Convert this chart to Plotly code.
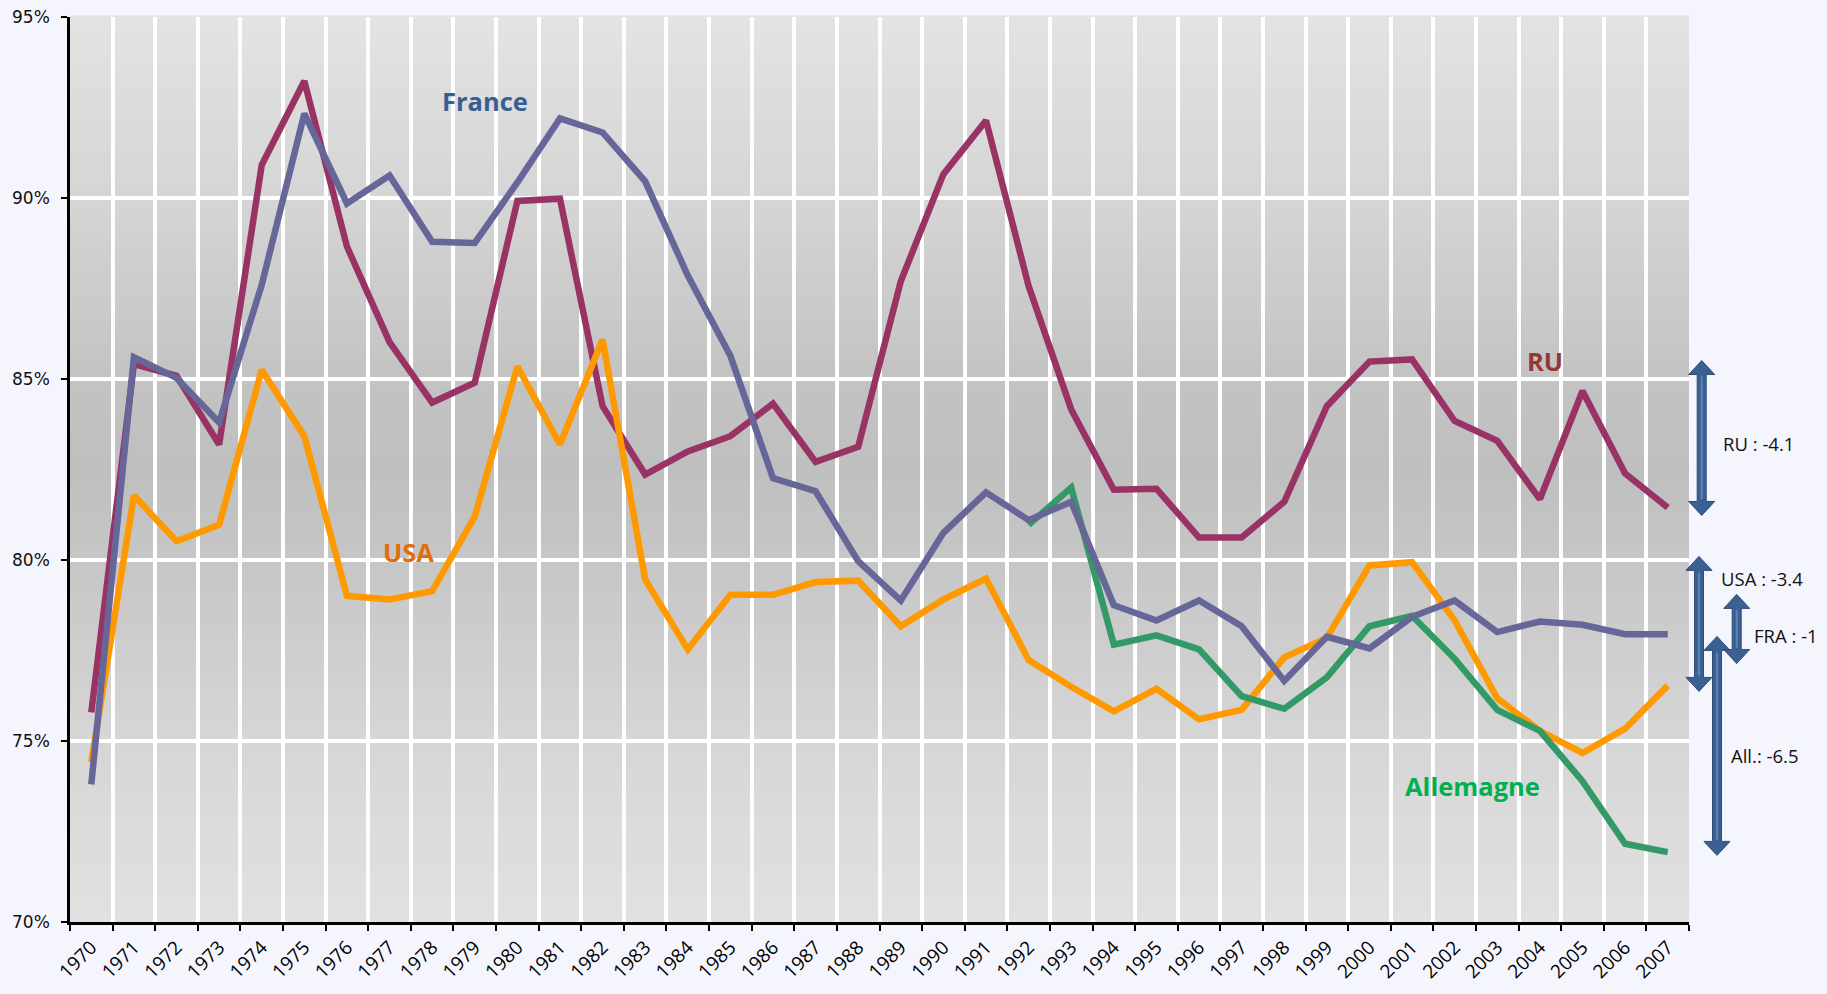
import plotly.graph_objects as go

years = [str(y) for y in range(1970, 2008)]

ru = [75.79, 85.41, 85.09, 83.19, 90.91, 93.23, 88.66, 86.02, 84.35, 84.90,
      89.92, 89.98, 84.25, 82.36, 83.00, 83.42, 84.32, 82.71, 83.13, 87.70,
      90.66, 92.14, 87.57, 84.16, 81.94, 81.97, 80.62, 80.62, 81.61, 84.25,
      85.48, 85.54, 83.84, 83.29, 81.68, 84.67, 82.39, 81.45]

france = [73.80, 85.60, 85.03, 83.80, 87.60, 92.33, 89.85, 90.62, 88.79, 88.76,
          90.43, 92.20, 91.81, 90.46, 87.86, 85.64, 82.26, 81.90, 79.97, 78.88,
          80.75, 81.87, 81.10, 81.61, 78.75, 78.33, 78.88, 78.17, 76.66, 77.88,
          77.56, 78.43, 78.88, 78.01, 78.30, 78.21, 77.95, 77.95]

usa = [74.41, 81.78, 80.52, 80.97, 85.25, 83.42, 79.01, 78.91, 79.14, 81.20,
       85.35, 83.19, 86.09, 79.46, 77.53, 79.04, 79.04, 79.39, 79.43, 78.17,
       78.91, 79.49, 77.24, 76.50, 75.82, 76.44, 75.60, 75.86, 77.31, 77.85,
       79.85, 79.94, 78.33, 76.18, 75.28, 74.67, 75.34, 76.53]

allemagne = [None] * 22 + [80.97, 82.00, 77.66, 77.92, 77.53, 76.24, 75.89, 76.76,
                           78.17, 78.46, 77.27, 75.86, 75.28, 73.89, 72.16, 71.93]

y_ticks = [70, 75, 80, 85, 90, 95]
y_min, y_max = 70, 95

# right-hand arrows: label, value top, value bottom
arrow_labels = ["RU : -4.1", "USA : -3.4", "All.: -6.5", "FRA : -1"]
arrow_tops = [85.51, 80.10, 77.89, 79.05]
arrow_bottoms = [81.23, 76.37, 71.84, 77.14]

W, H = 1827, 994
L, R, T, B = 70, 1689, 17, 922


def px_x(px):
    return (px - L) / (R - L)


def px_y(py):
    return (B - py) / (B - T)


def val_y(v):
    return (v - y_min) / (y_max - y_min)


fig = go.Figure()
for name, vals, col in [("RU", ru, "#993366"), ("USA", usa, "#FF9900"),
                        ("Allemagne", allemagne, "#339966"),
                        ("France", france, "#666699")]:
    fig.add_trace(go.Scatter(x=years, y=vals, mode="lines", name=name,
                             line=dict(color=col, width=6.5), connectgaps=False,
                             showlegend=False))

shapes = []


def lerp(c1, c2, t):
    return tuple(int(round(a + (b - a) * t)) for a, b in zip(c1, c2))


stops = [(70, (225, 225, 225)), (75, (214, 214, 214)), (80, (198, 198, 198)),
         (82.5, (191, 191, 191)), (85, (195, 195, 195)), (90, (213, 213, 213)),
         (95, (227, 227, 227))]
nb = 100
for i in range(nb):
    v0 = y_min + (y_max - y_min) * i / nb
    v1 = y_min + (y_max - y_min) * (i + 1) / nb
    vm = (v0 + v1) / 2
    for j in range(len(stops) - 1):
        if stops[j][0] <= vm <= stops[j + 1][0]:
            t = (vm - stops[j][0]) / (stops[j + 1][0] - stops[j][0])
            c = lerp(stops[j][1], stops[j + 1][1], t)
            break
    shapes.append(dict(type="rect", xref="paper", yref="paper", x0=0, x1=1,
                       y0=val_y(v0), y1=val_y(v1) + 0.002, line=dict(width=0),
                       fillcolor="rgb(%d,%d,%d)" % c, layer="below"))

arrow_x = [1701.7, 1699.0, 1717.0, 1736.7]
shaft_hw = 4.5
head_hw = 13
head_h = 14
for cx, vt, vb in zip(arrow_x, arrow_tops, arrow_bottoms):
    yt = B - val_y(vt) * (B - T)
    yb = B - val_y(vb) * (B - T)
    pts = [(cx, yt), (cx + head_hw, yt + head_h), (cx + shaft_hw, yt + head_h),
           (cx + shaft_hw, yb - head_h), (cx + head_hw, yb - head_h), (cx, yb),
           (cx - head_hw, yb - head_h), (cx - shaft_hw, yb - head_h),
           (cx - shaft_hw, yt + head_h), (cx - head_hw, yt + head_h)]
    path = "M " + " L ".join("%.5f,%.5f" % (px_x(a), px_y(b)) for a, b in pts) + " Z"
    shapes.append(dict(type="path", xref="paper", yref="paper", path=path,
                       fillcolor="#3B6193", line=dict(color="#2E4C75", width=1),
                       layer="above"))
    shapes.append(dict(type="line", xref="paper", yref="paper",
                       x0=px_x(cx), x1=px_x(cx), y0=px_y(yt + head_h + 2),
                       y1=px_y(yb - head_h - 2),
                       line=dict(color="#5B84B8", width=2), layer="above"))

annotations = []
lab_pos = [(1720.7, 443), (1719, 578), (1729, 755), (1751.7, 635)]
for txt, (lx, ly) in zip(arrow_labels, lab_pos):
    annotations.append(dict(text=txt, xref="paper", yref="paper", x=px_x(lx), y=px_y(ly),
                            xanchor="left", yanchor="middle", showarrow=False,
                            font=dict(family="Open Sans", size=18.5, color="#111111")))

names_pos = [("France", 485, 101, "#376092"), ("RU", 1545, 361, "#953735"),
             ("USA", 408, 552, "#E46C0A"), ("Allemagne", 1472, 786, "#00B050")]
for txt, lx, ly, col in names_pos:
    annotations.append(dict(text="<b>%s</b>" % txt, xref="paper", yref="paper",
                            x=px_x(lx), y=px_y(ly), xanchor="center", yanchor="middle",
                            showarrow=False,
                            font=dict(family="Open Sans", size=25.5, color=col)))

fig.update_layout(
    width=W, height=H,
    margin=dict(l=L, r=W - R, t=T, b=H - B, pad=0),
    paper_bgcolor="#f5f6fd",
    plot_bgcolor="#d0d0d0",
    shapes=shapes,
    annotations=annotations,
    showlegend=False,
    xaxis=dict(type="category", tickson="boundaries", ticks="outside", ticklen=6,
               tickcolor="black", tickwidth=1.5, automargin=False,
               showgrid=True, gridcolor="white", gridwidth=3.5,
               showline=True, linecolor="black", linewidth=2.5,
               tickangle=-45, ticklabelstandoff=4,
               tickfont=dict(family="Open Sans", size=19, color="black"),
               range=[-0.5, 37.5], zeroline=False),
    yaxis=dict(range=[y_min, y_max], tickvals=y_ticks,
               ticktext=["%d%%" % v for v in y_ticks], automargin=False,
               ticks="outside", ticklen=6, tickcolor="black", tickwidth=1.5,
               showgrid=True, gridcolor="white", gridwidth=3.5,
               showline=True, linecolor="black", linewidth=2.5,
               ticklabelstandoff=8,
               tickfont=dict(family="DejaVu Sans", size=17, color="#111111"),
               zeroline=False),
)

fig.write_html("out.html", config={"displayModeBar": False},
               post_script="document.body.style.margin='0';document.body.style.overflow='hidden';")
